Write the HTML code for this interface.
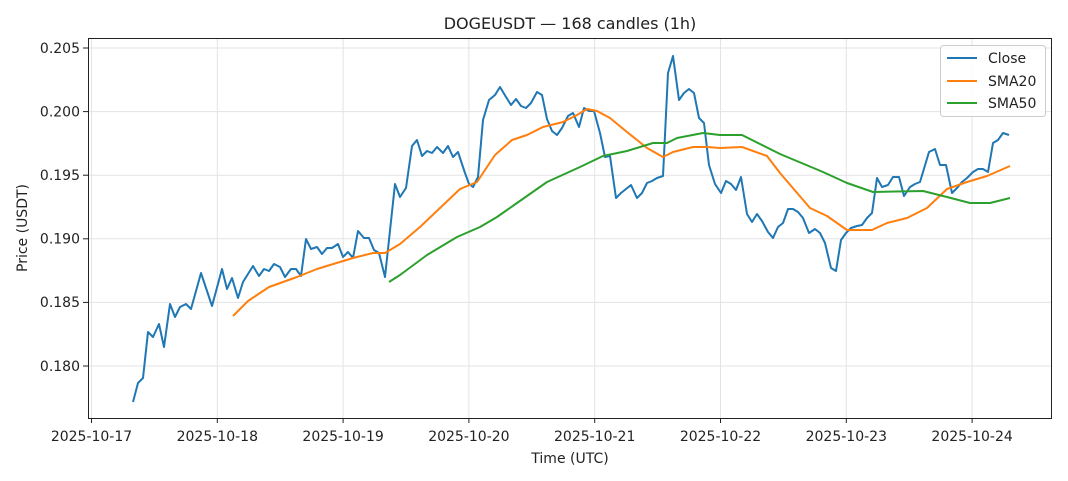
<!DOCTYPE html>
<html><head><meta charset="utf-8"><style>body{margin:0;background:#fff}svg{display:block}text{font-family:"DejaVu Sans","Liberation Sans",sans-serif;fill:#222}</style></head>
<body>
<svg width="1068" height="481" viewBox="0 0 1068 481" xmlns="http://www.w3.org/2000/svg">
<rect width="1068" height="481" fill="#fff"/>
<g stroke="#e3e3e3" stroke-width="1">
<line x1="88" x2="1052" y1="48" y2="48"/><line x1="88" x2="1052" y1="111.6" y2="111.6"/><line x1="88" x2="1052" y1="175.2" y2="175.2"/><line x1="88" x2="1052" y1="238.8" y2="238.8"/><line x1="88" x2="1052" y1="302.4" y2="302.4"/><line x1="88" x2="1052" y1="366" y2="366"/>
<line y1="38" y2="418" x1="91.5" x2="91.5"/><line y1="38" y2="418" x1="217.3" x2="217.3"/><line y1="38" y2="418" x1="343.1" x2="343.1"/><line y1="38" y2="418" x1="468.9" x2="468.9"/><line y1="38" y2="418" x1="594.7" x2="594.7"/><line y1="38" y2="418" x1="720.5" x2="720.5"/><line y1="38" y2="418" x1="846.3" x2="846.3"/><line y1="38" y2="418" x1="972.1" x2="972.1"/>
</g>
<g fill="none" stroke-width="2" stroke-linejoin="round">
<polyline stroke="#1f77b4" points="133,402 138,383 143,378 148,332 153,337 159,324 164,347 170,304 175,317 180,307 186,304 191,309 201,273 212,306 222,269 227,289 232,278 238,298 243,282 253,266 259,276 264,269 269,271 274,264 280,267 285,277 291,269 296,269 301,276 306,239 311,249 317,247 322,254 327,248 332,248 338,244 343,257 348,252 353,258 358,231 364,238 369,238 374,250 379,253 385,277 395,184 400,197 406,188 412,146 417,140 422,156 427,151 432,153 437,147 443,153 448,146 453,157 458,152 465,173 469,184 473,187 478,177 483,120 489,100 495,95 500,87 506,97 511,105 516,99 521,106 526,108 531,103 537,92 542,95 547,119 552,131 557,135 562,128 568,116 573,113 579,127 584,108 589,111 594,111 600,133 605,157 610,156 616,198 621,193 626,189 631,185 637,198 642,193 647,183 652,181 657,178 663,176 668,73 673,56 679,100 684,93 689,89 694,93 699,118 704,123 709,165 715,184 721,193 726,181 731,184 736,190 741,177 747,214 752,222 757,214 762,221 768,232 773,238 778,227 783,223 788,209 793,209 798,212 803,218 809,233 815,229 820,233 825,243 831,268 836,271 841,240 846,233 851,228 857,226 862,225 867,218 872,213 877,178 882,187 888,185 893,177 899,177 904,196 910,187 915,184 920,182 929,152 935,149 940,165 946,165 952,193 957,188 962,182 967,178 973,172 978,169 983,169 988,172 993,143 998,140 1003,133 1009,135"/>
<polyline stroke="#ff7f0e" points="233,316 248,301 269,287 297,277 317,269 353,258 373,253 385,253 400,244 420,227 440,208 460,189 477,182 495,155 512,140 527,135 543,127 563,122 577,115 587,109 597,111 610,118 627,132 647,148 663,157 673,152 693,147 707,147 720,148 742,147 767,156 780,173 810,208 827,216 847,230 872,230 887,223 907,218 927,208 947,189 967,182 987,176 1010,166"/>
<polyline stroke="#2ca02c" points="389,282 400,275 427,255 457,237 480,227 497,217 517,203 547,182 580,167 603,156 627,151 653,143 667,143 677,138 703,133 720,135 742,135 780,154 823,172 847,183 873,192 923,191 947,197 970,203 990,203 1010,198"/>
</g>
<rect x="88.5" y="38.5" width="963" height="380" fill="none" stroke="#222" stroke-width="1"/>
<g stroke="#222"><line x1="83" x2="88" y1="48" y2="48"/><line x1="83" x2="88" y1="111.6" y2="111.6"/><line x1="83" x2="88" y1="175.2" y2="175.2"/><line x1="83" x2="88" y1="238.8" y2="238.8"/><line x1="83" x2="88" y1="302.4" y2="302.4"/><line x1="83" x2="88" y1="366" y2="366"/>
<line y1="418" y2="423" x1="91.5" x2="91.5"/><line y1="418" y2="423" x1="217.3" x2="217.3"/><line y1="418" y2="423" x1="343.1" x2="343.1"/><line y1="418" y2="423" x1="468.9" x2="468.9"/><line y1="418" y2="423" x1="594.7" x2="594.7"/><line y1="418" y2="423" x1="720.5" x2="720.5"/><line y1="418" y2="423" x1="846.3" x2="846.3"/><line y1="418" y2="423" x1="972.1" x2="972.1"/></g>
<g font-size="14" text-anchor="end"><text x="80" y="53">0.205</text><text x="80" y="116.5">0.200</text><text x="80" y="180">0.195</text><text x="80" y="243.5">0.190</text><text x="80" y="307">0.185</text><text x="80" y="371">0.180</text></g>
<g font-size="14" text-anchor="middle"><text x="91.5" y="441">2025-10-17</text><text x="217.3" y="441">2025-10-18</text><text x="343.1" y="441">2025-10-19</text><text x="468.9" y="441">2025-10-20</text><text x="594.7" y="441">2025-10-21</text><text x="720.5" y="441">2025-10-22</text><text x="846.3" y="441">2025-10-23</text><text x="972.1" y="441">2025-10-24</text>
<text x="570" y="463">Time (UTC)</text><text x="570" y="29" font-size="16">DOGEUSDT — 168 candles (1h)</text>
<text transform="translate(27,228) rotate(-90)">Price (USDT)</text></g>
<rect x="940.5" y="45.5" width="105" height="71" rx="3" fill="#fff" fill-opacity="0.8" stroke="#ccc"/>
<g stroke-width="2"><line x1="947" x2="977" y1="58" y2="58" stroke="#1f77b4"/><line x1="947" x2="977" y1="81" y2="81" stroke="#ff7f0e"/><line x1="947" x2="977" y1="103" y2="103" stroke="#2ca02c"/></g>
<g font-size="14"><text x="988" y="63">Close</text><text x="988" y="86">SMA20</text><text x="988" y="108">SMA50</text></g>
</svg>
</body></html>
